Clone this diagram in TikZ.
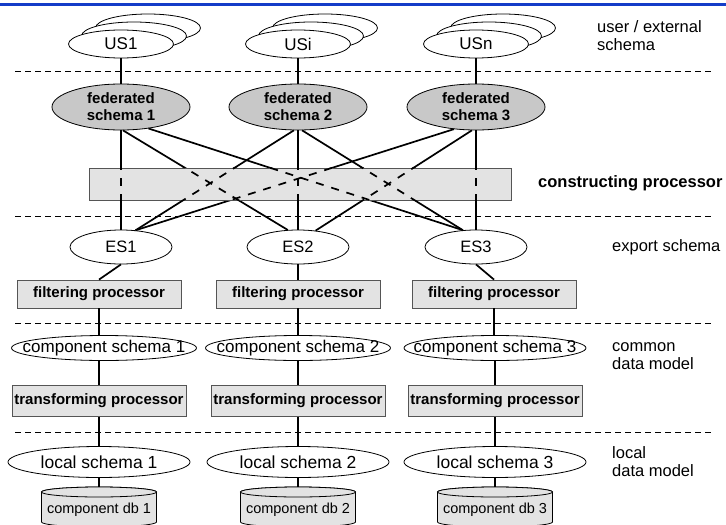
\documentclass[tikz,border=0pt]{standalone}
\usepackage{fontspec}
\setmainfont{Liberation Sans}
\usetikzlibrary{shapes.geometric,calc}

\definecolor{rulecol}{RGB}{20,60,200}
\definecolor{fedfill}{RGB}{200,200,200}
\definecolor{procfill}{RGB}{227,227,227}
\definecolor{procedge}{RGB}{85,85,85}

\tikzset{
  plain/.style={font=\fontsize{16.5}{18}\selectfont},
  roomy/.style={font=\fontsize{17.5}{19}\selectfont},
  snug/.style={font=\fontsize{17}{19}\selectfont},
  heavy/.style={font=\fontsize{15}{17}\selectfont\bfseries},
  oval/.style={ellipse, draw, fill=white, line width=0.8pt, inner sep=0pt, plain},
  fedoval/.style={ellipse, draw, fill=fedfill, line width=0.8pt, inner sep=0pt, heavy,
    align=center, minimum width=138pt, minimum height=46pt},
  procbox/.style={rectangle, draw=procedge, fill=procfill, line width=0.8pt, inner sep=0pt, heavy},
  conn/.style={line width=1.7pt},
  hidden/.style={line width=1.7pt, dash pattern=on 8pt off 8pt},
  layersep/.style={line width=0.9pt, dash pattern=on 6pt off 4pt},
  sidelabel/.style={anchor=west, align=left, inner sep=0pt, plain},
  dbshape/.style={draw, fill=procfill, line width=0.8pt},
  dbtext/.style={inner sep=0pt, font=\fontsize{14.5}{16}\selectfont},
}

% all federated-to-export connections, drawn with a given style
\newcommand\fedlinks[1]{%
  \draw[#1] (fed1) -- (es1);
  \draw[#1] (fed1.-85) -- (es2.121);
  \draw[#1] (fed1.-38) -- (es3.128);
  \draw[#1] (fed2.-100) -- (es1.49);
  \draw[#1] (fed2) -- (es2);
  \draw[#1] (fed2.-80) -- (es3.128);
  \draw[#1] (fed3.-135) -- (es1.49);
  \draw[#1] (fed3.-100) -- (es2.43);
  \draw[#1] (fed3) -- (es3);
}

\begin{document}
\begin{tikzpicture}[x=1pt,y=-1pt]
\useasboundingbox (0,0) rectangle (726,525);
\clip (0,0) rectangle (726,525);

% top rule
\draw[rulecol, line width=3pt] (0,4) -- (726,4);

% layer separators
\foreach \yy in {71,216,323,432}
  \draw[layersep] (15,\yy) -- (712,\yy);

% user / external schemas (stacked)
\foreach \n/\xx/\t in {1/121/US1,2/298/USi,3/476/USn}{
  \node[oval, minimum width=105pt, minimum height=28pt] (usc\n) at (\xx+27,28) {};
  \node[oval, minimum width=105pt, minimum height=28pt] (usb\n) at (\xx+13,36) {};
  \node[oval, minimum width=105pt, minimum height=28pt, snug] (us\n) at (\xx,44) {\t};
}

% federated schemas
\node[fedoval] (fed1) at (121,107) {federated\\schema 1};
\node[fedoval] (fed2) at (298,107) {federated\\schema 2};
\node[fedoval] (fed3) at (476,107) {federated\\schema 3};
\foreach \n in {1,2,3}
  \draw[conn] (us\n) -- (fed\n);

% export schemas
\node[oval, minimum width=102pt, minimum height=34pt] (es1) at (121,247) {ES1};
\node[oval, minimum width=102pt, minimum height=34pt] (es2) at (298,247) {ES2};
\node[oval, minimum width=102pt, minimum height=34pt] (es3) at (476,247) {ES3};

% constructing processor with the links seen through it
\fedlinks{conn}
\node[procbox, minimum width=422pt, minimum height=32pt] (cproc) at (300,184) {};
\begin{scope}
  \clip (cproc.north west) rectangle (cproc.south east);
  \fedlinks{hidden}
\end{scope}

% filtering processors
\node[procbox, minimum width=164pt, minimum height=28pt] (filt1) at (99,294) {filtering processor};
\node[procbox, minimum width=164pt, minimum height=28pt] (filt2) at (298,294) {filtering processor};
\node[procbox, minimum width=164pt, minimum height=28pt] (filt3) at (494,294) {filtering processor};
\draw[conn] (es1.south) -- (filt1.north);
\draw[conn] (es2) -- (filt2);
\draw[conn] (es3.south) -- (filt3.north);

% component schemas
\node[oval, snug, minimum width=185pt, minimum height=25pt] (cs1) at (104,348) {\makebox[0pt]{component schema 1}};
\node[oval, snug, minimum width=185pt, minimum height=25pt] (cs2) at (298,348) {\makebox[0pt]{component schema 2}};
\node[oval, snug, minimum width=182pt, minimum height=25pt] (cs3) at (495,348) {\makebox[0pt]{component schema 3}};

% transforming processors
\node[procbox, minimum width=174pt, minimum height=31pt] (tr1) at (99,401) {transforming processor};
\node[procbox, minimum width=174pt, minimum height=31pt] (tr2) at (298,401) {transforming processor};
\node[procbox, minimum width=174pt, minimum height=31pt] (tr3) at (495,401) {transforming processor};

\draw[conn] (filt1.south) -- (filt1.south |- cs1.north);
\draw[conn] (filt2) -- (cs2);
\draw[conn] (filt3.south) -- (filt3.south |- cs3.north);
\draw[conn] (tr1.north |- cs1.south) -- (tr1.north);
\draw[conn] (cs2) -- (tr2);
\draw[conn] (tr3.north |- cs3.south) -- (tr3.north);

% local schemas
\node[oval, roomy, minimum width=182pt, minimum height=31pt] (ls1) at (99,462) {local schema 1};
\node[oval, roomy, minimum width=182pt, minimum height=31pt] (ls2) at (298,462) {local schema 2};
\node[oval, roomy, minimum width=182pt, minimum height=31pt] (ls3) at (495,462) {local schema 3};
\foreach \n in {1,2,3}
  \draw[conn] (tr\n) -- (ls\n);

% component databases
\foreach \n/\xx in {1/99,2/298,3/495}{
  \path[dbshape] (\xx-57.5,492) -- (\xx-57.5,522)
    arc[start angle=180, end angle=0, x radius=57.5, y radius=5]
    -- (\xx+57.5,492)
    arc[start angle=0, end angle=-180, x radius=57.5, y radius=5] -- cycle;
  \draw[dbshape] (\xx,492) ellipse [x radius=57.5, y radius=5];
  \coordinate (dbtop\n) at (\xx,487);
  \node[dbtext] (db\n) at (\xx,510) {component db \n};
  \draw[conn] (ls\n) -- (dbtop\n);
}

% layer captions
\node[sidelabel] (capus) at (597,35.5) {user / external\\schema};
\node[sidelabel, font=\fontsize{16.5}{18}\selectfont\bfseries] (capcp) at (538,183) {constructing processor};
\node[sidelabel] (capex) at (612,247) {export schema};
\node[sidelabel] (capcm) at (612,356) {common\\data model};
\node[sidelabel] (caplc) at (612,461.5) {local\\data model};
\end{tikzpicture}
\end{document}
